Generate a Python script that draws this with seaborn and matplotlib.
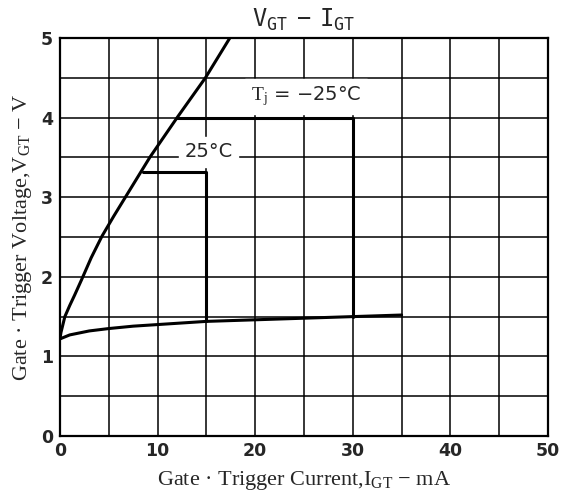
import numpy as np
import pandas as pd
import seaborn as sns
import matplotlib.pyplot as plt

# curves (I_GT in mA, V_GT in V)
upper_i = [0, 0.1, 0.3, 0.5, 1.0, 1.5, 2.2, 3.2, 4.3, 5.5, 6.7, 7.95, 9.2, 10.6, 12, 13.45, 14.9, 16.15, 17.4]
upper_v = [1.22, 1.3, 1.4, 1.5, 1.64, 1.77, 1.96, 2.24, 2.51, 2.76, 3.0, 3.25, 3.5, 3.75, 4.0, 4.25, 4.5, 4.75, 5.0]

lower_i = [0, 1, 3, 5, 7.5, 10, 15, 20, 25, 30, 35]
lower_v = [1.22, 1.27, 1.32, 1.35, 1.38, 1.40, 1.44, 1.46, 1.48, 1.50, 1.52]

# trigger limits at 25C and -25C
box25_i = [8.5, 15, 15]
box25_v = [3.32, 3.32, 1.44]
boxm25_i = [12, 30, 30]
boxm25_v = [4.0, 4.0, 1.50]

x_ticks = [0, 10, 20, 30, 40, 50]
y_ticks = [0, 1, 2, 3, 4, 5]

sns.set_style("white")
plt.rcParams['mathtext.fontset'] = 'custom'
plt.rcParams['mathtext.rm'] = 'Liberation Serif'
plt.rcParams['mathtext.it'] = 'Liberation Serif:italic'
plt.rcParams['mathtext.tt'] = 'DejaVu Sans Mono'

fig = plt.figure(figsize=(5.68, 4.93), dpi=100)
ax = fig.add_axes([0.1056, 0.1156, 0.8592, 0.8073])

# grid every 5 mA and 0.5 V
for gx in np.arange(5, 50, 5):
    ax.axvline(gx, color='black', lw=1.1, zorder=1)
for gy in np.arange(0.5, 5, 0.5):
    ax.axhline(gy, color='black', lw=1.1, zorder=1)

for xs, ys in [(upper_i, upper_v), (lower_i, lower_v),
               (box25_i, box25_v), (boxm25_i, boxm25_v)]:
    df = pd.DataFrame({'I': xs, 'V': ys})
    sns.lineplot(data=df, x='I', y='V', sort=False, estimator=None,
                 color='black', lw=2.2, ax=ax, zorder=3)

ax.text(15.2, 3.57, '25°C', ha='center', va='center', fontsize=14,
        family='DejaVu Sans', backgroundcolor='white', zorder=4)
ax.text(25.2, 4.27, '$\\mathrm{T_j}$ = −25°C', ha='center', va='center', fontsize=14,
        family='DejaVu Sans', backgroundcolor='white', zorder=4)

ax.set_xlim(0, 50)
ax.set_ylim(0, 5)
ax.set_xticks(x_ticks)
ax.set_yticks(y_ticks)
ax.set_xticklabels([str(t) for t in x_ticks], fontweight='bold', fontsize=12.5)
ax.set_yticklabels([str(t) for t in y_ticks], fontweight='bold', fontsize=12.5)
ax.tick_params(axis='x', length=0, pad=4)
ax.tick_params(axis='y', length=0, pad=5)
for s in ax.spines.values():
    s.set_color('black')
    s.set_linewidth(1.6)

ax.set_xlabel('Gate · Trigger Current,$\\mathrm{I_{GT}}$ − mA',
              family='Liberation Serif', fontsize=16, labelpad=7)
ax.set_ylabel('Gate · Trigger Voltage,$\\mathrm{V_{GT}}$ − V',
              family='Liberation Serif', fontsize=16, labelpad=5)
ax.set_title('$\\mathtt{V_{GT}\\ -\\ I_{GT}}$', fontsize=17, pad=8)

plt.savefig("out.png", dpi=100)
